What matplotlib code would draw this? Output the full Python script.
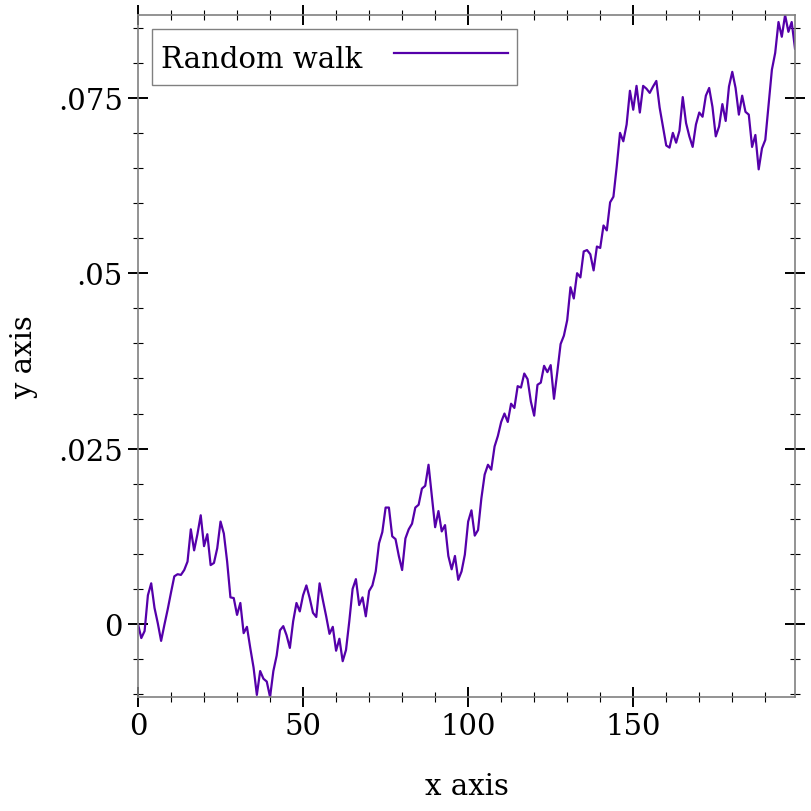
import numpy as np
import matplotlib
matplotlib.use("Agg")
import matplotlib.pyplot as plt
from matplotlib.ticker import MultipleLocator

# random walk values (x = 0 .. 199)
walk = [
    0.0000, -0.0020, -0.0010, 0.0041, 0.0058, 0.0023, 0.0001, -0.0024, -0.0001, 0.0021,
    0.0045, 0.0068, 0.0071, 0.0070, 0.0077, 0.0089, 0.0135, 0.0105, 0.0128, 0.0155,
    0.0111, 0.0128, 0.0084, 0.0087, 0.0108, 0.0146, 0.0129, 0.0089, 0.0038, 0.0037,
    0.0013, 0.0030, -0.0013, -0.0004, -0.0034, -0.0062, -0.0101, -0.0067, -0.0078, -0.0082,
    -0.0104, -0.0067, -0.0045, -0.0009, -0.0003, -0.0016, -0.0034, 0.0004, 0.0030, 0.0018,
    0.0041, 0.0055, 0.0037, 0.0016, 0.0010, 0.0058, 0.0034, 0.0011, -0.0014, -0.0004,
    -0.0038, -0.0021, -0.0053, -0.0037, 0.0004, 0.0050, 0.0064, 0.0027, 0.0038, 0.0011,
    0.0047, 0.0055, 0.0075, 0.0115, 0.0131, 0.0166, 0.0166, 0.0125, 0.0121, 0.0097,
    0.0077, 0.0122, 0.0135, 0.0143, 0.0166, 0.0170, 0.0193, 0.0197, 0.0227, 0.0183,
    0.0138, 0.0161, 0.0132, 0.0141, 0.0097, 0.0078, 0.0097, 0.0063, 0.0075, 0.0099,
    0.0146, 0.0162, 0.0126, 0.0134, 0.0179, 0.0213, 0.0227, 0.0220, 0.0253, 0.0268,
    0.0288, 0.0300, 0.0288, 0.0314, 0.0308, 0.0339, 0.0337, 0.0357, 0.0349, 0.0317,
    0.0297, 0.0341, 0.0344, 0.0368, 0.0359, 0.0369, 0.0321, 0.0359, 0.0399, 0.0411,
    0.0433, 0.0480, 0.0464, 0.0500, 0.0494, 0.0531, 0.0533, 0.0527, 0.0504, 0.0538,
    0.0536, 0.0568, 0.0561, 0.0601, 0.0609, 0.0652, 0.0700, 0.0688, 0.0712, 0.0760,
    0.0733, 0.0767, 0.0729, 0.0767, 0.0763, 0.0757, 0.0766, 0.0774, 0.0736, 0.0709,
    0.0682, 0.0679, 0.0700, 0.0686, 0.0703, 0.0751, 0.0714, 0.0695, 0.0680, 0.0712,
    0.0729, 0.0723, 0.0753, 0.0764, 0.0737, 0.0695, 0.0709, 0.0741, 0.0717, 0.0766,
    0.0787, 0.0764, 0.0726, 0.0753, 0.0730, 0.0726, 0.0680, 0.0697, 0.0648, 0.0678,
    0.0690, 0.0740, 0.0790, 0.0814, 0.0858, 0.0837, 0.0868, 0.0844, 0.0858, 0.0820,
]
steps = list(range(len(walk)))

xtick_values = [0, 50, 100, 150]
xtick_labels = ["0", "50", "100", "150"]
ytick_values = [0, 0.025, 0.05, 0.075]
ytick_labels = ["0", ".025", ".05", ".075"]

line_color = "#5500aa"
axis_gray = "#808080"
fs = 21

plt.rcParams["font.family"] = ["DejaVu Serif"]

fig = plt.figure(figsize=(8.12, 8.12), dpi=100)
ax = fig.add_axes([138 / 812, 1 - 698 / 812, 657 / 812, 682 / 812])

ax.plot(steps, walk, color=line_color, lw=1.6, label="Random walk")

ax.set_xlim(min(steps), max(steps))
ax.set_ylim(min(walk), max(walk))

ax.set_xticks(xtick_values)
ax.set_xticklabels(xtick_labels)
ax.set_yticks(ytick_values)
ax.set_yticklabels(ytick_labels)
ax.xaxis.set_minor_locator(MultipleLocator(10))
ax.yaxis.set_minor_locator(MultipleLocator(0.005))

ax.tick_params(which="both", direction="inout", top=True, right=True,
               color="black", labelsize=fs, pad=4)
ax.tick_params(which="major", length=14, width=1.4)
ax.tick_params(which="minor", length=7, width=0.8)

for sp in ax.spines.values():
    sp.set_color(axis_gray)
    sp.set_linewidth(1.2)

ax.set_xlabel("x axis", fontsize=fs, labelpad=23)
ax.set_ylabel("y axis", fontsize=fs, labelpad=14)

# legend: text first, then the line sample, square grey frame
leg = ax.legend(loc="upper left", bbox_to_anchor=(0.021, 0.979), borderaxespad=0,
                fontsize=fs, markerfirst=False, fancybox=False, framealpha=1,
                edgecolor=axis_gray, handlelength=3.9, handletextpad=1.08,
                borderpad=0.32, handleheight=1.6)
leg.get_frame().set_linewidth(1.0)

fig.savefig("out.png", dpi=100)
